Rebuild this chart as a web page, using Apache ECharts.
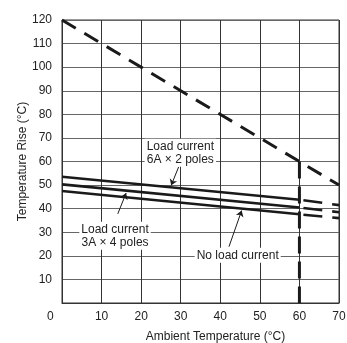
<!DOCTYPE html>
<html>
<head>
<meta charset="utf-8">
<script src="https://cdn.jsdelivr.net/npm/echarts@6/dist/echarts.min.js"></script>
<style>
    html, body { margin: 0; padding: 0; background: #fff; }
    #chart { width: 347px; height: 343px; }
</style>
</head>
<body>
<div id="chart"></div>
<script>
// 坐标轴刻度
const xTicks = [0, 10, 20, 30, 40, 50, 60, 70]
const yTicks = [0, 10, 20, 30, 40, 50, 60, 70, 80, 90, 100, 110, 120]

// 虚线: 上限曲线 + 60°C 竖线
const limitX = [0, 60, 70]
const limitY = [120, 60, 50]
const dropX = [60, 60]
const dropY = [60, 0]

// 三条实线 (0~60) 和 虚线延伸 (60~70)
const solidX = [0, 60]
const tailX = [60, 70]
const load6A = [53.5, 43.8]
const load6ATail = [43.8, 41.5]
const load3A = [50.3, 40.5]
const load3ATail = [40.5, 38.5]
const noLoad = [47.5, 37.6]
const noLoadTail = [37.6, 36.0]

// 标注文字和指引线 (数据坐标)
const noteTexts = ['Load current\n6A × 2 poles', 'Load current\n3A × 4 poles', 'No load current']
const noteAt = [[29.9, 63.7], [13.4, 28.5], [44.4, 20.2]]
const arrowFrom = [[29.5, 57.8], [14.1, 37.8], [42.2, 23.9]]
const arrowTo = [[27.6, 49.9], [16.2, 46.6], [45.4, 39.2]]

const FONT = 'Liberation Sans, Arial, sans-serif'
const INK = '#1a1a1a'

function pairs(xs, ys) {
    return xs.map((x, i) => [x, ys[i]])
}

function solidSeries(xs, ys) {
    return {
        type: 'line',
        data: pairs(xs, ys),
        symbol: 'none',
        lineStyle: { color: INK, width: 2.6 },
        z: 3
    }
}

function tailSeries(xs, ys) {
    return {
        type: 'line',
        data: pairs(xs, ys),
        symbol: 'none',
        lineStyle: { color: INK, width: 2.6, type: [19, 10], dashOffset: 25 },
        z: 3
    }
}

function dashSeries(xs, ys, dash) {
    return {
        type: 'line',
        data: pairs(xs, ys),
        symbol: 'none',
        lineStyle: { color: INK, width: 3, type: dash },
        z: 3
    }
}

function noteSeries() {
    return {
        type: 'line',
        data: [],
        silent: true,
        markLine: {
            silent: true,
            symbol: ['none', 'arrow'],
            symbolSize: 6,
            label: { show: false },
            lineStyle: { color: INK, width: 1, type: 'solid' },
            emphasis: { disabled: true },
            data: arrowFrom.map((p, i) => [{ coord: p }, { coord: arrowTo[i] }])
        },
        markPoint: {
            silent: true,
            symbol: 'rect',
            symbolSize: 1,
            itemStyle: { color: 'rgba(0,0,0,0)' },
            label: {
                show: true,
                position: 'inside',
                formatter: '{b}',
                color: '#222',
                fontFamily: FONT,
                fontSize: 12,
                lineHeight: 13,
                align: 'center',
                backgroundColor: '#fff',
                padding: [1, 2]
            },
            data: noteTexts.map((t, i) => ({ name: t, coord: noteAt[i] }))
        },
        z: 5
    }
}

const chart = echarts.init(document.getElementById('chart'))

const option = {
    animation: false,
    grid: {
        left: 62,
        top: 20,
        right: 8,
        bottom: 40,
        outerBoundsMode: 'none',
        show: true,
        borderColor: '#333',
        borderWidth: 1
    },
    xAxis: {
        type: 'value',
        min: xTicks[0],
        max: xTicks[xTicks.length - 1],
        interval: 10,
        name: 'Ambient Temperature (°C)',
        nameLocation: 'middle',
        nameGap: 28,
        nameMoveOverlap: false,
        nameTextStyle: { color: '#222', fontFamily: FONT, fontSize: 12, padding: [0, 0, 0, 30] },
        axisLine: { show: true, lineStyle: { color: '#333' } },
        axisTick: { show: false },
        axisLabel: {
            color: '#222',
            fontFamily: FONT,
            fontSize: 12,
            margin: 8,
            formatter: v => v === 0 ? '' : String(v)
        },
        splitLine: { show: true, lineStyle: { color: '#333', width: 1 } }
    },
    yAxis: {
        type: 'value',
        min: yTicks[0],
        max: yTicks[yTicks.length - 1],
        interval: 10,
        name: 'Temperature Rise (°C)',
        nameLocation: 'middle',
        nameGap: 33,
        nameMoveOverlap: false,
        nameTextStyle: { color: '#222', fontFamily: FONT, fontSize: 12 },
        axisLine: { show: true, lineStyle: { color: '#333' } },
        axisTick: { show: false },
        axisLabel: {
            color: '#222',
            fontFamily: FONT,
            fontSize: 12,
            margin: 10,
            formatter: v => v === 0 ? '' : String(v)
        },
        splitLine: { show: true, lineStyle: { color: '#666', width: 1 } }
    },
    graphic: [
        {
            type: 'text',
            left: 47,
            top: 311,
            style: { text: '0', fill: '#222', font: '12px ' + FONT }
        }
    ],
    series: [
        dashSeries(limitX, limitY, [16, 10]),
        dashSeries(dropX, dropY, [17, 8]),
        solidSeries(solidX, load6A),
        solidSeries(solidX, load3A),
        solidSeries(solidX, noLoad),
        tailSeries(tailX, load6ATail),
        tailSeries(tailX, load3ATail),
        tailSeries(tailX, noLoadTail),
        noteSeries()
    ]
}

chart.setOption(option)
</script>
</body>
</html>
